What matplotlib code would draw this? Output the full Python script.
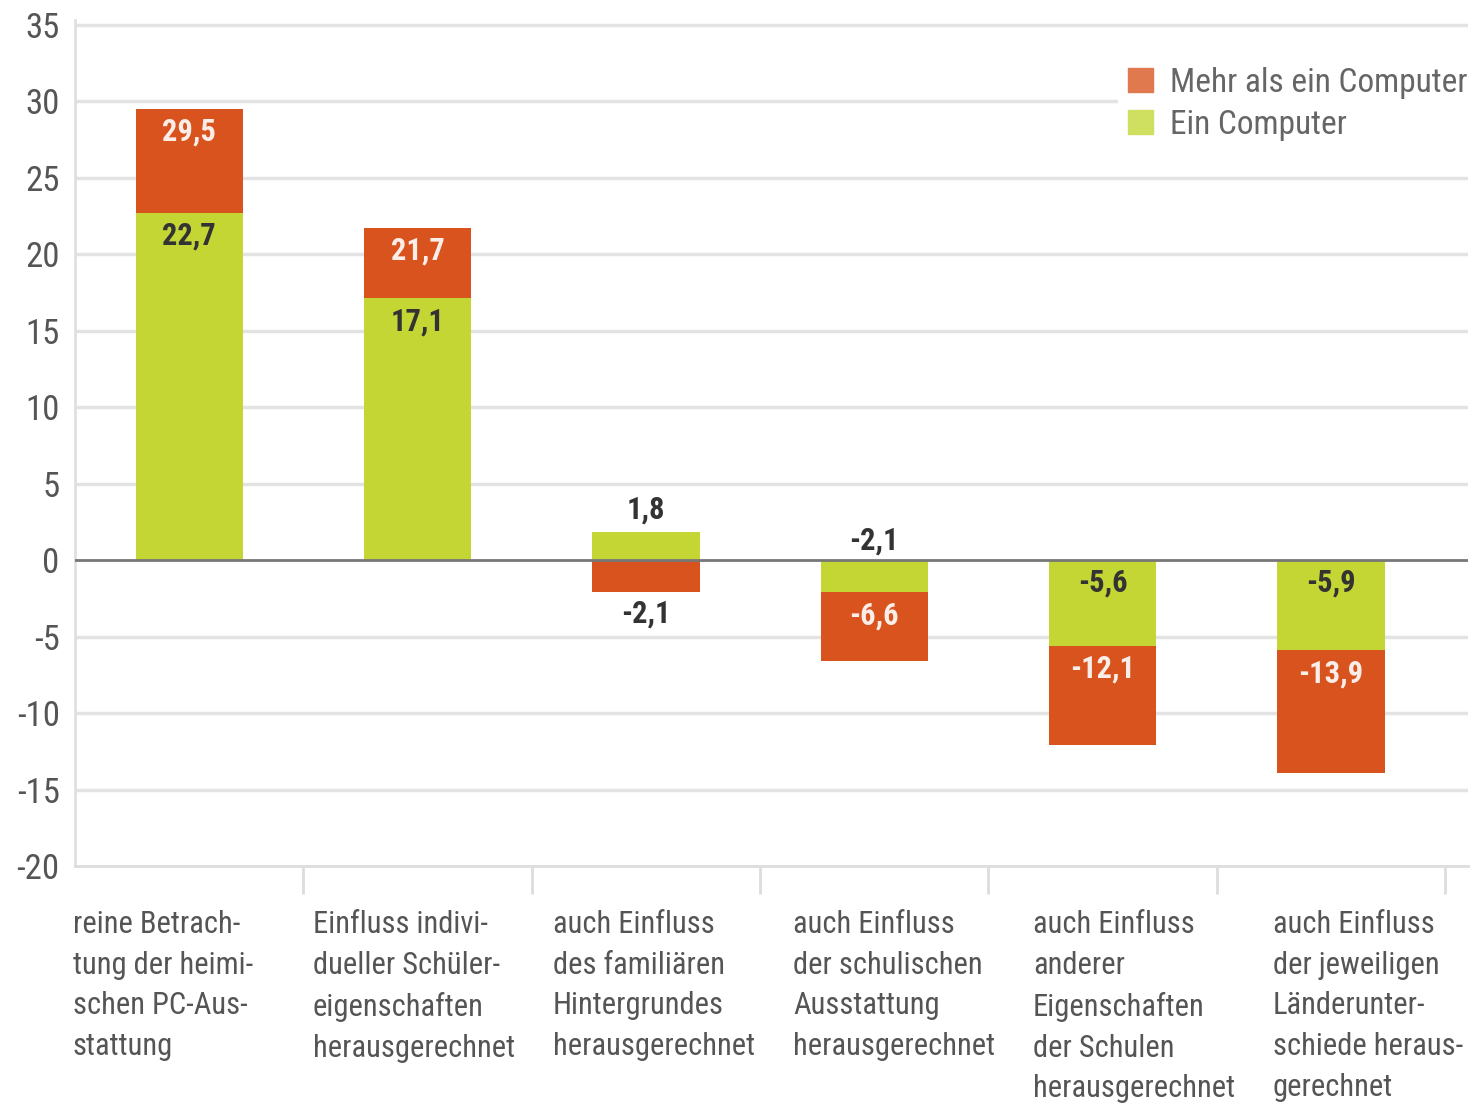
import matplotlib
matplotlib.use('Agg')
import matplotlib.pyplot as plt
from matplotlib import font_manager
from matplotlib.patches import Patch

# pick a condensed font if one is installed
names = set(f.name for f in font_manager.fontManager.ttflist)
narrow = None
for n in ['Roboto Condensed', 'Liberation Sans Narrow', 'Open Sans Condensed',
          'DejaVu Sans Condensed', 'Noto Sans Condensed', 'Arial Narrow']:
    if n in names:
        narrow = n
        break
fam = narrow if narrow else 'DejaVu Sans'
fs = 22 if narrow else 18

plt.rcParams['font.family'] = [fam, 'DejaVu Sans']
plt.rcParams['axes.unicode_minus'] = False

# data
categories = ['reine Betrach-\ntung der heimi-\nschen PC-Aus-\nstattung',
              'Einfluss indivi-\ndueller Schüler-\neigenschaften\nherausgerechnet',
              'auch Einfluss\ndes familiären\nHintergrundes\nherausgerechnet',
              'auch Einfluss\nder schulischen\nAusstattung\nherausgerechnet',
              'auch Einfluss\nanderer\nEigenschaften\nder Schulen\nherausgerechnet',
              'auch Einfluss\nder jeweiligen\nLänderunter-\nschiede heraus-\ngerechnet']
ein_computer = [22.7, 17.1, 1.8, -2.1, -5.6, -5.9]
mehr_computer = [29.5, 21.7, -2.1, -6.6, -12.1, -13.9]

green = '#c3d634'
red = '#d9531e'
txt = '#555555'

fig = plt.figure(figsize=(14.72, 11.04), dpi=100)
ax = fig.add_axes([75/1472, 238/1104, 1393/1472, 846/1104])

w = 0.47


def fmt(v):
    return ('%.1f' % v).replace('.', ',')


for i, (g, r) in enumerate(zip(ein_computer, mehr_computer)):
    # red segment starts at green value if same sign, else at zero
    base = g if (g * r > 0) else 0
    ax.bar(i, g, width=w, color=green, zorder=3)
    ax.bar(i, r - base, bottom=base, width=w, color=red, zorder=3)

    # labels: inside near the segment's outer top if big enough, else outside
    for start, end, col, val in [(0, g, '#333333', g), (base, r, '#fbeee8', r)]:
        seg = abs(end - start)
        if end > 0:
            if seg >= 3:
                y, c = end - 1.5, col
            else:
                y, c = end + 1.5, '#333333'
        else:
            if seg >= 3:
                y, c = start - 1.5, col
            elif start == 0 and g < 0 and end == g:
                y, c = 1.3, '#333333'
            else:
                y, c = end - 1.4, '#333333'
        ax.text(i, y, fmt(val), ha='center', va='center', fontsize=fs,
                color=c, fontweight='bold', zorder=5)

ax.set_xlim(-0.5, 5.6)
ax.set_ylim(-20, 35.3)
ax.set_yticks(range(-20, 36, 5))
ax.set_yticklabels([str(v) for v in range(-20, 36, 5)])
ax.tick_params(axis='y', length=0, labelsize=fs + 3, labelcolor=txt, pad=11)
ax.set_xticks([])
ax.set_xticks([i + 0.5 for i in range(6)], minor=True)
ax.tick_params(axis='x', which='minor', length=20, width=2, color='#dddddd')
ax.xaxis.set_minor_formatter(plt.NullFormatter())

for v in range(-15, 36, 5):
    if v != 0:
        ax.axhline(v, color='#e3e3e3', lw=2.5, zorder=1)
ax.axhline(0, color='#777777', lw=2, zorder=4)

for s in ['top', 'right']:
    ax.spines[s].set_visible(False)
ax.spines['left'].set_color('#e0e0e0')
ax.spines['left'].set_linewidth(2)
ax.spines['bottom'].set_color('#dddddd')
ax.spines['bottom'].set_linewidth(2)

for i, lab in enumerate(categories):
    fig.text((73 + 240 * i) / 1472, 1 - 910 / 1104, lab, ha='left', va='top',
             fontsize=fs, color=txt, linespacing=1.51 * 22 / fs)

handles = [Patch(color='#e07a4e', label='Mehr als ein Computer'),
           Patch(color='#cfe060', label='Ein Computer')]
leg = ax.legend(handles=handles, loc='upper right',
                bbox_to_anchor=(1494/1472, 1 - 40/1104), bbox_transform=fig.transFigure,
                fontsize=fs + 2, frameon=True, facecolor='white', edgecolor='none',
                framealpha=1, handlelength=0.75, handleheight=0.75,
                handletextpad=0.5, labelspacing=0.3, borderpad=0.3)
for t in leg.get_texts():
    t.set_color('#666666')
leg.set_zorder(6)

fig.savefig('out.png', dpi=100, facecolor='white')
